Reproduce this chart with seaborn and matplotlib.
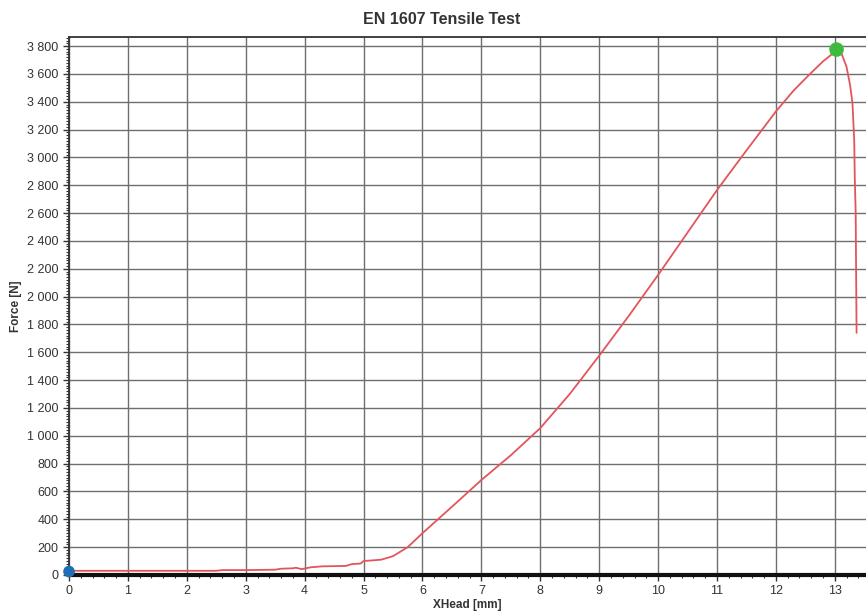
import numpy as np
import pandas as pd
import matplotlib
matplotlib.use("Agg")
import matplotlib.pyplot as plt
import seaborn as sns
from matplotlib.ticker import MultipleLocator, FuncFormatter

# Courbe force / déplacement
xhead = [0.0, 0.5, 1.0, 1.5, 2.0, 2.5, 2.6, 3.0, 3.5, 3.6, 3.8, 3.85, 3.95, 4.1, 4.3,
         4.7, 4.8, 4.95, 5.0, 5.3, 5.5, 5.75, 6.0, 6.5, 7.0, 7.5, 8.0, 8.5, 9.0,
         9.5, 10.0, 10.5, 11.0, 11.5, 12.0, 12.3, 12.58, 12.8, 13.05,
         13.12, 13.2, 13.26, 13.3, 13.33, 13.34, 13.355, 13.36, 13.37]
force = [30, 30, 30, 30, 30, 30, 35, 35, 38, 45, 48, 52, 42, 55, 62,
         65, 78, 82, 100, 110, 135, 200, 300, 490, 682, 860, 1055, 1300, 1575,
         1860, 2155, 2460, 2765, 3050, 3330, 3480, 3600, 3690, 3775,
         3740, 3650, 3520, 3390, 3125, 2840, 2600, 2300, 1740]

start_pt = (0.0, 25)
max_pt = (13.03, 3775)

df = pd.DataFrame({"XHead": xhead, "Force": force})

sns.set_style("white")
plt.rcParams['font.family'] = ['Liberation Sans', 'DejaVu Sans']

fig = plt.figure(figsize=(8.66, 6.12), dpi=100)
ax = fig.add_axes([0.0797, 0.0605, 0.9203, 0.879])

sns.lineplot(data=df, x="XHead", y="Force", sort=False, color="#e2555a", lw=1.3, ax=ax, zorder=3)
sns.scatterplot(x=[start_pt[0]], y=[start_pt[1]], color="#1f6db5", s=70, edgecolor="none", ax=ax, zorder=4, clip_on=False)
sns.scatterplot(x=[max_pt[0]], y=[max_pt[1]], color="#3fba3f", s=110, edgecolor="none", ax=ax, zorder=4)

ax.set_xlim(0, 13.53)
ax.set_ylim(0, 3865)
ax.xaxis.set_major_locator(MultipleLocator(1))
ax.xaxis.set_minor_locator(MultipleLocator(0.2))
ax.yaxis.set_major_locator(MultipleLocator(200))
ax.yaxis.set_minor_locator(MultipleLocator(20))
ax.yaxis.set_major_formatter(FuncFormatter(lambda v, p: f"{int(v):,}".replace(",", " ")))

ax.grid(True, which="major", color="#6e6e6e", lw=1.0)
ax.set_axisbelow(True)

ax.tick_params(which="major", direction="out", length=4, width=1, color="#333333",
               labelsize=9, labelcolor="#333333", left=True, bottom=True)
ax.tick_params(which="minor", direction="out", length=2, width=0.8, color="#333333",
               left=True, bottom=True)

for s in ["left", "top"]:
    ax.spines[s].set_color("#333333")
    ax.spines[s].set_linewidth(1.3)
ax.spines["bottom"].set_color("#111111")
ax.spines["bottom"].set_linewidth(3)
ax.spines["right"].set_visible(False)

ax.set_xlabel("XHead [mm]", fontsize=8.5, fontweight="bold", color="#333333", labelpad=1)
ax.set_ylabel("Force [N]", fontsize=8.5, fontweight="bold", color="#333333", labelpad=4)
fig.suptitle("EN 1607 Tensile Test", x=0.51, y=0.98, fontsize=11.5, fontweight="bold", color="#333333")

fig.savefig("out.png", dpi=100)
